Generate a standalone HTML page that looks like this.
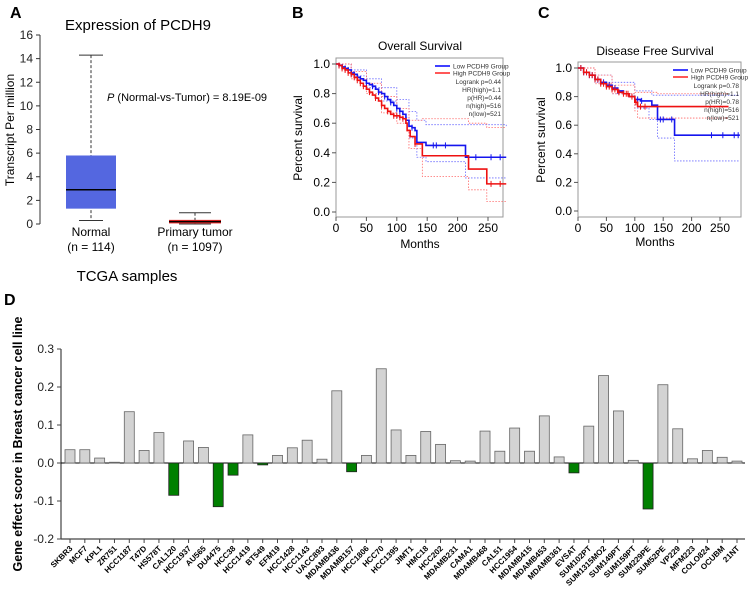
<!DOCTYPE html>
<html><head><meta charset="utf-8"><style>
body{margin:0;background:#fff;font-family:"Liberation Sans",Arial,sans-serif}
svg{display:block}
text{font-family:"Liberation Sans",Arial,sans-serif}
</style></head><body>
<svg id="fig" width="753" height="601" viewBox="0 0 753 601">
<text x="10" y="18" font-size="16" font-weight="bold">A</text>
<text x="292" y="18" font-size="16" font-weight="bold">B</text>
<text x="538" y="18" font-size="16" font-weight="bold">C</text>
<text x="4" y="305" font-size="16" font-weight="bold">D</text>

<g id="pa">
<text x="138" y="30" font-size="15" text-anchor="middle">Expression of PCDH9</text>
<text transform="translate(14,130) rotate(-90)" font-size="12" text-anchor="middle">Transcript Per million</text>
<text x="107" y="101" font-size="11"><tspan font-style="italic">P</tspan> (Normal-vs-Tumor) = 8.19E-09</text>
<text x="91" y="236" font-size="12" text-anchor="middle">Normal</text>
<text x="91" y="251" font-size="12" text-anchor="middle">(n = 114)</text>
<text x="195" y="236" font-size="12" text-anchor="middle">Primary tumor</text>
<text x="195" y="251" font-size="12" text-anchor="middle">(n = 1097)</text>
<text x="127" y="281" font-size="15" text-anchor="middle">TCGA samples</text>
</g>

<g id="pb">
<text x="420" y="50" font-size="12" text-anchor="middle">Overall Survival</text>
<text transform="translate(302,138) rotate(-90)" font-size="12" text-anchor="middle">Percent survival</text>
<text x="420" y="248" font-size="12" text-anchor="middle">Months</text>
</g>
<g id="pc">
<text x="655" y="55" font-size="12" text-anchor="middle">Disease Free Survival</text>
<text transform="translate(545,140) rotate(-90)" font-size="12" text-anchor="middle">Percent survival</text>
<text x="655" y="246" font-size="12" text-anchor="middle">Months</text>
</g>

<g id="pd">
<text transform="translate(22,444) rotate(-90)" font-size="12.5" font-weight="bold" text-anchor="middle">Gene effect  score in Breast cancer cell line</text>
</g>
</svg>
<script>
const NS="http://www.w3.org/2000/svg";
function mk(parent,tag,attrs){const e=document.createElementNS(NS,tag);for(const k in attrs)e.setAttribute(k,attrs[k]);parent.appendChild(e);return e;}

/* ---------- Panel A data ---------- */
const boxGroups=["Normal","Primary tumor"];
const boxQ1=[1.3,0.05];
const boxMedian=[2.9,0.2];
const boxQ3=[5.8,0.35];
const boxWhiskLo=[0.3,0.0];
const boxWhiskHi=[14.3,0.95];
const aTicks=[0,2,4,6,8,10,12,14,16];

/* ---------- Panel B data (Overall Survival) ---------- */
const osLowT=[0,5,10,15,20,25,30,35,40,45,50,55,60,65,70,75,80,85,90,95,100,105,110,115,120,125,130,133,148,213,280];
const osLowS=[1.0,0.99,0.98,0.97,0.96,0.94,0.93,0.91,0.9,0.89,0.87,0.86,0.85,0.83,0.81,0.8,0.78,0.76,0.74,0.72,0.7,0.68,0.66,0.62,0.58,0.57,0.55,0.47,0.45,0.37,0.37];
const osHighT=[0,5,10,15,20,25,30,35,40,45,50,55,60,65,70,75,80,85,90,95,100,105,110,115,117,122,130,142,218,248,280];
const osHighS=[1.0,0.99,0.97,0.96,0.94,0.93,0.91,0.89,0.87,0.85,0.83,0.81,0.79,0.77,0.75,0.72,0.7,0.68,0.66,0.65,0.65,0.64,0.63,0.6,0.55,0.51,0.46,0.38,0.29,0.19,0.19];
const osLowUpT=[0,25,50,75,100,120,133,148,280];
const osLowUpS=[1.0,0.96,0.9,0.84,0.76,0.68,0.62,0.59,0.58];
const osLowLoT=[0,25,50,75,100,120,133,148,213,280];
const osLowLoS=[1.0,0.92,0.84,0.75,0.64,0.5,0.37,0.34,0.23,0.23];
const osHighUpT=[0,25,50,75,100,120,142,218,248,280];
const osHighUpS=[1.0,0.95,0.87,0.78,0.7,0.62,0.63,0.6,0.57,0.57];
const osHighLoT=[0,25,50,75,100,120,142,218,248,280];
const osHighLoS=[1.0,0.9,0.8,0.67,0.6,0.43,0.24,0.15,0.07,0.07];
const osCensLow=[5,10,15,20,25,30,35,40,50,60,70,80,90,100,105,115,125,160,165,180,230,255,270];
const osCensHigh=[5,10,15,20,25,30,35,40,45,55,65,75,85,95,100,105,110,130,255,270];
const osLegendStats=["Logrank p=0.44","HR(high)=1.1","p(HR)=0.44","n(high)=516","n(low)=521"];

/* ---------- Panel C data (DFS) ---------- */
const dfsLowT=[0,10,20,30,40,50,60,70,80,90,100,110,125,130,140,170,285];
const dfsLowS=[1.0,0.97,0.95,0.92,0.9,0.88,0.86,0.84,0.82,0.8,0.78,0.77,0.77,0.74,0.64,0.53,0.53];
const dfsHighT=[0,10,20,30,40,50,60,70,80,90,100,105,265];
const dfsHighS=[1.0,0.97,0.95,0.92,0.89,0.87,0.85,0.83,0.82,0.8,0.76,0.73,0.73];
const dfsLowUpT=[0,30,60,100,130,285];
const dfsLowUpS=[1.0,0.95,0.9,0.84,0.81,0.81];
const dfsLowLoT=[0,30,60,100,125,140,170,285];
const dfsLowLoS=[1.0,0.9,0.82,0.72,0.64,0.51,0.35,0.35];
const dfsHighUpT=[0,30,60,100,140,265];
const dfsHighUpS=[1.0,0.95,0.88,0.83,0.82,0.82];
const dfsHighLoT=[0,30,60,100,105,265];
const dfsHighLoS=[1.0,0.89,0.82,0.7,0.65,0.65];
const dfsCensLow=[5,10,15,20,25,30,35,40,45,50,55,60,65,70,105,112,145,150,165,235,255,275,282];
const dfsCensHigh=[5,10,15,20,25,30,35,40,45,50,55,60,65,72,80,85,88,95,102,110,118];
const dfsLegendStats=["Logrank p=0.78","HR(high)=1.1","p(HR)=0.78","n(high)=516","n(low)=521"];
const survTicksY=[0,0.2,0.4,0.6,0.8,1.0];
const survTicksX=[0,50,100,150,200,250];

/* ---------- Panel D data ---------- */
const cellLines=["SKBR3","MCF7","KPL1","ZR751","HCC1187","T47D","HS578T","CAL120","HCC1937","AU565","DU4475","HCC38","HCC1419","BT549","EFM19","HCC1428","HCC1143","UACC893","MDAMB436","MDAMB157","HCC1806","HCC70","HCC1395","JIMT1","HMC18","HCC202","MDAMB231","CAMA1","MDAMB468","CAL51","HCC1954","MDAMB415","MDAMB453","MDAMB361","EVSAT","SUM102PT","SUM1315MO2","SUM149PT","SUM159PT","SUM229PE","SUM52PE","VP229","MFM223","COLO824","OCUBM","21NT"];
const geneEffect=[0.035,0.035,0.013,0.002,0.135,0.033,0.08,-0.085,0.058,0.041,-0.115,-0.032,0.074,-0.005,0.02,0.04,0.06,0.01,0.19,-0.023,0.02,0.248,0.087,0.02,0.083,0.049,0.006,0.005,0.084,0.031,0.092,0.031,0.124,0.016,-0.026,0.097,0.23,0.137,0.007,-0.121,0.206,0.09,0.011,0.033,0.015,0.005];
const dTicks=[-0.2,-0.1,0.0,0.1,0.2,0.3];
const dTickLabels=["-0.2","-0.1","0.0","0.1","0.2","0.3"];

/* ---------- Draw Panel A ---------- */
(function(){
const g=document.getElementById('pa');
const y=v=>224-v*(189/16);
const xc=[91,195], hw=[25,26], cw=[12,16];
const colors=["#5467e0","#ee2222"];
mk(g,'line',{x1:40,y1:y(16),x2:40,y2:224,stroke:'#333','stroke-width':1});
aTicks.forEach(t=>{
  const tk=mk(g,'line',{x1:36,y1:y(t),x2:40,y2:y(t),stroke:'#333'});
  
  
  const tx=mk(g,'text',{x:33,y:y(t)+4,'font-size':12,'text-anchor':'end',fill:'#222'});
  tx.textContent=t;
  
  
});
boxGroups.forEach((n,i)=>{
  const w=mk(g,'line',{x1:xc[i],y1:y(boxWhiskHi[i]),x2:xc[i],y2:y(boxWhiskLo[i]),stroke:'#333','stroke-dasharray':'3,2'});
  
  
  [boxWhiskHi[i],boxWhiskLo[i]].forEach(v=>{
    const c=mk(g,'line',{x1:xc[i]-cw[i],y1:y(v),x2:xc[i]+cw[i],y2:y(v),stroke:'#333'});
    
    
  });
  const r=mk(g,'rect',{x:xc[i]-hw[i],y:y(boxQ3[i]),width:hw[i]*2,height:Math.max(y(boxQ1[i])-y(boxQ3[i]),3),fill:colors[i]});
  
  
  const m=mk(g,'line',{x1:xc[i]-hw[i],y1:y(boxMedian[i]),x2:xc[i]+hw[i],y2:y(boxMedian[i]),stroke:'#000','stroke-width':1.5});
  
  
});
})();

/* ---------- Survival panel drawer ---------- */
function stepPath(T,S,xs,ys){let d='M'+xs(T[0])+','+ys(S[0]);for(let i=1;i<T.length;i++){d+=' H'+xs(T[i])+' V'+ys(S[i]);}return d;}
function survAt(T,S,t){let v=S[0];for(let i=0;i<T.length;i++){if(T[i]<=t)v=S[i];}return v;}
function drawSurv(gid,fr,x0,x250,y1,y0,d){
  const g=document.getElementById(gid);
  const xs=t=>x0+t*(x250-x0)/250, ys=s=>y0-s*(y0-y1);
  const f=mk(g,'rect',{x:fr[0],y:fr[1],width:fr[2]-fr[0],height:fr[3]-fr[1],fill:'none',stroke:'#999'});
  
  
  survTicksY.forEach(t=>{
    const tk=mk(g,'line',{x1:fr[0]-4,y1:ys(t),x2:fr[0],y2:ys(t),stroke:'#555'});
    
    
    const tx=mk(g,'text',{x:fr[0]-6,y:ys(t)+4,'font-size':12,'text-anchor':'end'});
    tx.textContent=t.toFixed(1);
    
    
  });
  survTicksX.forEach(t=>{
    const tk=mk(g,'line',{x1:xs(t),y1:fr[3],x2:xs(t),y2:fr[3]+4,stroke:'#555'});
    
    
    const tx=mk(g,'text',{x:xs(t),y:fr[3]+15,'font-size':12,'text-anchor':'middle'});
    tx.textContent=t;
    
    
  });
  d.ci.forEach(c=>{
    const p=mk(g,'path',{d:stepPath(c[0],c[1],xs,ys),fill:'none',stroke:c[2],'stroke-width':0.8,'stroke-dasharray':'1.5,1.5'});
    
    
  });
  d.curves.forEach(c=>{
    const p=mk(g,'path',{d:stepPath(c[0],c[1],xs,ys),fill:'none',stroke:c[2],'stroke-width':1.6});
    
    
    c[3].forEach(t=>{
      const s=ys(survAt(c[0],c[1],t));
      const m=mk(g,'line',{x1:xs(t),y1:s-3,x2:xs(t),y2:s+3,stroke:c[2],'stroke-width':1});
      
      
    });
  });
  const lx=fr[2]-50, ly=fr[1]+8;
  [['#0000ff','Low PCDH9 Group'],['#ff2020','High PCDH9 Group']].forEach((l,i)=>{
    const ln=mk(g,'line',{x1:lx-18,y1:ly+i*7,x2:lx-3,y2:ly+i*7,stroke:l[0],'stroke-width':1.5});
    
    
    const tx=mk(g,'text',{x:lx,y:ly+i*7+2.5,'font-size':6.5,fill:'#333'});
    tx.textContent=l[1];
    
    
  });
  d.stats.forEach((s,i)=>{
    const tx=mk(g,'text',{x:fr[2]-2,y:ly+18+i*8,'font-size':6.5,'text-anchor':'end',fill:'#333'});
    tx.textContent=s;
    
    
  });
}
drawSurv('pb',[336,58,503,217],336,488,64,212,{
  ci:[[osLowUpT,osLowUpS,'#6a6aff'],[osLowLoT,osLowLoS,'#6a6aff'],[osHighUpT,osHighUpS,'#ff6a6a'],[osHighLoT,osHighLoS,'#ff6a6a']],
  curves:[[osLowT,osLowS,'#1515ee',osCensLow,'low-group-curve'],[osHighT,osHighS,'#ee1111',osCensHigh,'high-group-curve']],
  stats:osLegendStats});
drawSurv('pc',[578,62,741,217],578,720,68,211,{
  ci:[[dfsLowUpT,dfsLowUpS,'#6a6aff'],[dfsLowLoT,dfsLowLoS,'#6a6aff'],[dfsHighUpT,dfsHighUpS,'#ff6a6a'],[dfsHighLoT,dfsHighLoS,'#ff6a6a']],
  curves:[[dfsLowT,dfsLowS,'#1515ee',dfsCensLow,'low-group-curve'],[dfsHighT,dfsHighS,'#ee1111',dfsCensHigh,'high-group-curve']],
  stats:dfsLegendStats});

/* ---------- Panel D ---------- */
(function(){
const g=document.getElementById('pd');
const y=v=>463-v*380;
const x0=70, step=(737-70)/(cellLines.length-1), bw=10;
const xs=i=>x0+i*step;
mk(g,'line',{x1:61,y1:y(0.3),x2:61,y2:y(-0.2),stroke:'#444','stroke-width':1.2});
mk(g,'line',{x1:61,y1:y(-0.2),x2:745,y2:y(-0.2),stroke:'#444','stroke-width':1.2});
mk(g,'line',{x1:61,y1:y(0),x2:745,y2:y(0),stroke:'#000','stroke-width':1});
dTicks.forEach((t,i)=>{
  const tk=mk(g,'line',{x1:57,y1:y(t),x2:61,y2:y(t),stroke:'#444'});
  
  
  const tx=mk(g,'text',{x:54,y:y(t)+4,'font-size':12,'text-anchor':'end',fill:'#222'});
  tx.textContent=dTickLabels[i];
  
  
});
cellLines.forEach((n,i)=>{
  const v=geneEffect[i];
  const top=v>=0?y(v):y(0), h=Math.abs(y(v)-y(0));
  const r=mk(g,'rect',{x:xs(i)-bw/2,y:top,width:bw,height:Math.max(h,0.8),fill:v>=0?'#d3d3d3':'#008000',stroke:v>=0?'#666':'#222','stroke-width':0.8});
  
  
  const tk=mk(g,'line',{x1:xs(i),y1:y(-0.2),x2:xs(i),y2:y(-0.2)+4,stroke:'#444'});
  
  
  const tx=mk(g,'text',{x:xs(i)+3,y:y(-0.2)+10,'font-size':8,'font-weight':'bold','text-anchor':'end',transform:'rotate(-45 '+(xs(i)+3)+' '+(y(-0.2)+10)+')'});
  tx.textContent=n;
  
  
});
})();
</script>
</body></html>
